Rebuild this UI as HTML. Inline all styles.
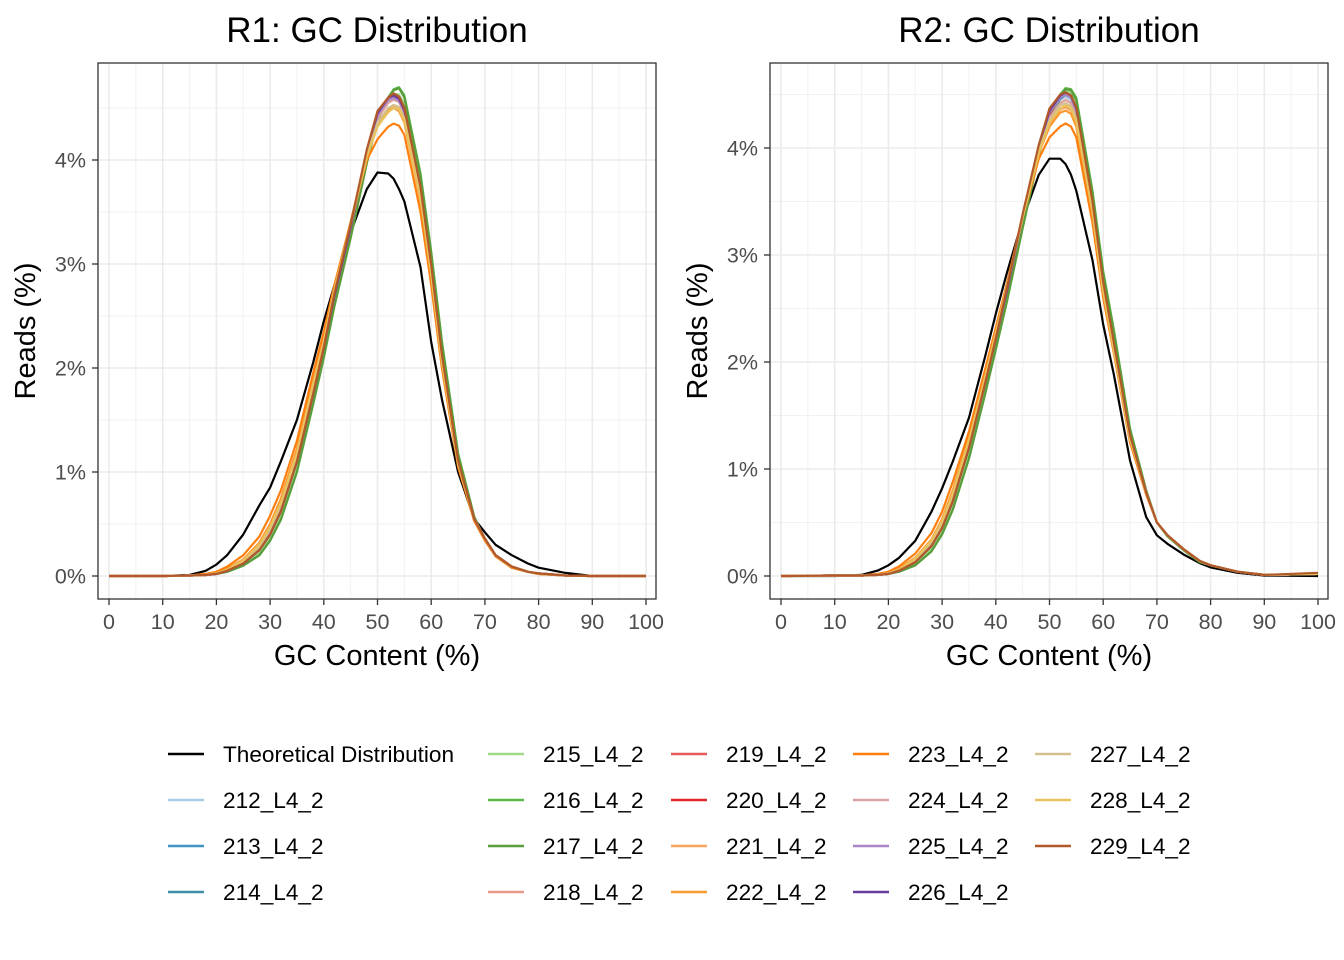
<!DOCTYPE html>
<html><head><meta charset="utf-8">
<style>
html,body{margin:0;padding:0;background:#fff;}
svg{display:block;font-family:"Liberation Sans",sans-serif;}
</style></head>
<body>
<svg id="chart" width="1344" height="960" viewBox="0 0 1344 960" xmlns="http://www.w3.org/2000/svg"></svg>
<script>
// ---- data ----
const gcPoints = [0,10,15,18,20,22,25,28,30,32,35,38,40,42,45,48,50,52,53,54,55,58,60,62,65,68,70,72,75,78,80,85,90,100];
const xTicks = [0,10,20,30,40,50,60,70,80,90,100];
const yTicksR1 = [0,1,2,3,4];
const yTicksR2 = [0,1,2,3,4];
const seriesNames = ["Theoretical Distribution","212_L4_2","213_L4_2","214_L4_2","215_L4_2","216_L4_2","217_L4_2","218_L4_2","219_L4_2","220_L4_2","221_L4_2","222_L4_2","223_L4_2","224_L4_2","225_L4_2","226_L4_2","227_L4_2","228_L4_2","229_L4_2"];
const seriesColors = ["#000000","#a6cee3","#4292c6","#3f8fa6","#a1d98b","#5bb748","#5a9e3c","#e89a8a","#e85a5a","#e3262a","#f9a55f","#fd9a2f","#ff7f0e","#dba1a3","#a985c6","#6a3d9a","#d4c08f","#e8c35f","#b15928"];

const r1Theory = [0,0,0.01,0.05,0.11,0.2,0.4,0.68,0.85,1.1,1.5,2.05,2.45,2.8,3.3,3.72,3.88,3.87,3.82,3.72,3.6,2.97,2.25,1.7,1.0,0.55,0.42,0.3,0.2,0.12,0.08,0.03,0,0];
const r1S212 = [0,0,0.005,0.01,0.02,0.05,0.12,0.25,0.4,0.62,1.1,1.75,2.2,2.7,3.35,4.05,4.4,4.56,4.6,4.58,4.48,3.7,2.95,2.1,1.1,0.55,0.36,0.2,0.09,0.04,0.025,0.005,0,0];
const r1S213 = [0,0,0.005,0.01,0.02,0.05,0.12,0.25,0.4,0.62,1.1,1.75,2.2,2.7,3.35,4.05,4.4,4.57,4.61,4.59,4.49,3.72,2.97,2.11,1.1,0.55,0.36,0.2,0.09,0.04,0.025,0.005,0,0];
const r1S214 = [0,0,0.005,0.01,0.02,0.05,0.12,0.25,0.4,0.62,1.1,1.75,2.2,2.7,3.35,4.05,4.4,4.56,4.6,4.58,4.48,3.7,2.95,2.1,1.1,0.55,0.36,0.2,0.09,0.04,0.025,0.005,0,0];
const r1S215 = [0,0,0.005,0.01,0.02,0.04,0.1,0.22,0.36,0.57,1.05,1.7,2.15,2.65,3.3,4.0,4.38,4.58,4.64,4.63,4.54,3.8,3.05,2.2,1.15,0.56,0.35,0.19,0.08,0.04,0.02,0.005,0,0];
const r1S216 = [0,0,0.005,0.01,0.02,0.04,0.1,0.2,0.34,0.54,1.0,1.65,2.1,2.6,3.25,3.97,4.38,4.6,4.68,4.7,4.62,3.87,3.12,2.26,1.18,0.57,0.35,0.19,0.08,0.04,0.02,0.005,0,0];
const r1S217 = [0,0,0.005,0.01,0.02,0.04,0.1,0.2,0.34,0.54,1.0,1.65,2.1,2.6,3.25,3.97,4.38,4.6,4.67,4.69,4.6,3.85,3.1,2.24,1.17,0.57,0.35,0.19,0.08,0.04,0.02,0.005,0,0];
const r1S218 = [0,0,0.005,0.01,0.02,0.05,0.13,0.26,0.42,0.64,1.12,1.78,2.22,2.72,3.38,4.07,4.4,4.55,4.58,4.56,4.45,3.68,2.93,2.08,1.09,0.55,0.36,0.2,0.09,0.04,0.025,0.005,0,0];
const r1S219 = [0,0,0.005,0.01,0.02,0.05,0.12,0.25,0.4,0.62,1.1,1.75,2.2,2.7,3.35,4.05,4.42,4.6,4.63,4.61,4.5,3.72,2.97,2.11,1.1,0.55,0.36,0.2,0.09,0.04,0.025,0.005,0,0];
const r1S220 = [0,0,0.005,0.01,0.02,0.05,0.12,0.25,0.4,0.62,1.1,1.75,2.2,2.7,3.35,4.05,4.42,4.6,4.63,4.61,4.5,3.72,2.97,2.11,1.1,0.55,0.36,0.2,0.09,0.04,0.025,0.005,0,0];
const r1S221 = [0,0,0.005,0.015,0.03,0.07,0.16,0.32,0.5,0.74,1.22,1.88,2.3,2.78,3.4,4.05,4.35,4.5,4.52,4.49,4.38,3.63,2.9,2.06,1.08,0.54,0.35,0.19,0.08,0.04,0.02,0.005,0,0];
const r1S222 = [0,0,0.005,0.015,0.03,0.07,0.16,0.32,0.5,0.74,1.22,1.88,2.3,2.78,3.4,4.05,4.33,4.48,4.5,4.47,4.36,3.61,2.88,2.05,1.08,0.54,0.35,0.19,0.08,0.04,0.02,0.005,0,0];
const r1S223 = [0,0,0.005,0.02,0.04,0.09,0.2,0.38,0.58,0.82,1.3,1.95,2.35,2.8,3.4,4.0,4.2,4.32,4.35,4.33,4.24,3.5,2.8,2.0,1.05,0.53,0.34,0.19,0.08,0.04,0.02,0.005,0,0];
const r1S224 = [0,0,0.005,0.01,0.02,0.05,0.13,0.26,0.42,0.64,1.12,1.78,2.22,2.72,3.38,4.07,4.4,4.55,4.58,4.56,4.45,3.68,2.93,2.08,1.09,0.55,0.36,0.2,0.09,0.04,0.025,0.005,0,0];
const r1S225 = [0,0,0.005,0.01,0.02,0.05,0.12,0.25,0.4,0.62,1.1,1.75,2.2,2.7,3.35,4.07,4.43,4.58,4.6,4.57,4.46,3.69,2.94,2.09,1.09,0.55,0.36,0.2,0.09,0.04,0.025,0.005,0,0];
const r1S226 = [0,0,0.005,0.01,0.02,0.05,0.12,0.25,0.4,0.62,1.1,1.75,2.2,2.7,3.35,4.08,4.45,4.6,4.62,4.59,4.48,3.7,2.95,2.1,1.1,0.55,0.36,0.2,0.09,0.04,0.025,0.005,0,0];
const r1S227 = [0,0,0.005,0.01,0.025,0.06,0.14,0.28,0.45,0.68,1.16,1.82,2.25,2.75,3.38,4.05,4.36,4.5,4.53,4.51,4.4,3.65,2.91,2.07,1.09,0.55,0.36,0.2,0.09,0.04,0.025,0.005,0,0];
const r1S228 = [0,0,0.005,0.01,0.025,0.06,0.15,0.3,0.47,0.7,1.18,1.84,2.26,2.76,3.38,4.03,4.32,4.46,4.5,4.49,4.38,3.63,2.9,2.06,1.08,0.55,0.36,0.2,0.09,0.04,0.025,0.005,0,0];
const r1S229 = [0,0,0.005,0.01,0.02,0.05,0.12,0.25,0.4,0.62,1.1,1.75,2.2,2.72,3.38,4.1,4.47,4.6,4.64,4.61,4.5,3.74,2.99,2.13,1.11,0.55,0.36,0.2,0.09,0.04,0.025,0.005,0,0];

const r2Theory = [0,0,0.01,0.05,0.1,0.17,0.33,0.6,0.82,1.07,1.48,2.05,2.45,2.82,3.33,3.75,3.9,3.9,3.85,3.75,3.6,2.95,2.35,1.88,1.08,0.55,0.38,0.3,0.2,0.12,0.08,0.03,0.005,0];
const r2S212 = [0,0.005,0.005,0.01,0.02,0.05,0.13,0.28,0.45,0.7,1.2,1.8,2.22,2.65,3.35,3.98,4.3,4.45,4.48,4.45,4.33,3.45,2.7,2.15,1.3,0.78,0.5,0.38,0.25,0.14,0.1,0.04,0.01,0.02];
const r2S213 = [0,0.005,0.005,0.01,0.02,0.05,0.13,0.28,0.45,0.7,1.2,1.8,2.22,2.65,3.35,3.98,4.3,4.46,4.5,4.47,4.35,3.47,2.72,2.16,1.3,0.78,0.5,0.38,0.25,0.14,0.1,0.04,0.01,0.02];
const r2S214 = [0,0.005,0.005,0.01,0.02,0.05,0.13,0.28,0.45,0.7,1.2,1.8,2.22,2.65,3.35,3.98,4.3,4.46,4.5,4.47,4.35,3.47,2.72,2.16,1.3,0.78,0.5,0.38,0.25,0.14,0.1,0.04,0.01,0.02];
const r2S215 = [0,0.005,0.005,0.01,0.02,0.04,0.11,0.25,0.41,0.65,1.15,1.75,2.17,2.6,3.3,3.95,4.3,4.48,4.53,4.52,4.42,3.54,2.79,2.23,1.34,0.79,0.5,0.37,0.24,0.13,0.1,0.04,0.01,0.02];
const r2S216 = [0,0.005,0.005,0.01,0.02,0.04,0.1,0.23,0.39,0.62,1.1,1.7,2.12,2.55,3.25,3.93,4.3,4.5,4.56,4.55,4.47,3.6,2.85,2.3,1.38,0.8,0.5,0.37,0.24,0.13,0.1,0.04,0.01,0.02];
const r2S217 = [0,0.005,0.005,0.01,0.02,0.04,0.1,0.23,0.39,0.62,1.1,1.7,2.12,2.55,3.25,3.93,4.3,4.49,4.55,4.54,4.45,3.58,2.83,2.28,1.37,0.8,0.5,0.37,0.24,0.13,0.1,0.04,0.01,0.02];
const r2S218 = [0,0.005,0.005,0.01,0.02,0.05,0.14,0.3,0.47,0.72,1.22,1.82,2.24,2.67,3.37,3.98,4.28,4.42,4.45,4.42,4.3,3.43,2.68,2.13,1.29,0.78,0.5,0.38,0.25,0.14,0.1,0.04,0.01,0.02];
const r2S219 = [0,0.005,0.005,0.01,0.02,0.05,0.13,0.28,0.45,0.7,1.2,1.8,2.22,2.65,3.35,3.99,4.32,4.48,4.52,4.49,4.37,3.48,2.73,2.17,1.31,0.78,0.5,0.38,0.25,0.14,0.1,0.04,0.01,0.02];
const r2S220 = [0,0.005,0.005,0.01,0.02,0.05,0.13,0.28,0.45,0.7,1.2,1.8,2.22,2.65,3.35,3.99,4.32,4.48,4.52,4.49,4.37,3.48,2.73,2.17,1.31,0.78,0.5,0.38,0.25,0.14,0.1,0.04,0.01,0.02];
const r2S221 = [0,0.005,0.005,0.015,0.03,0.07,0.17,0.34,0.53,0.8,1.29,1.88,2.29,2.7,3.37,3.96,4.22,4.36,4.38,4.35,4.23,3.38,2.65,2.11,1.28,0.77,0.5,0.38,0.25,0.14,0.1,0.04,0.01,0.02];
const r2S222 = [0,0.005,0.005,0.015,0.03,0.07,0.17,0.34,0.53,0.8,1.29,1.88,2.29,2.7,3.37,3.95,4.2,4.33,4.35,4.32,4.2,3.36,2.64,2.1,1.27,0.77,0.5,0.38,0.25,0.14,0.1,0.04,0.01,0.02];
const r2S223 = [0,0.005,0.005,0.02,0.04,0.09,0.21,0.4,0.6,0.88,1.35,1.93,2.32,2.72,3.35,3.9,4.1,4.2,4.23,4.2,4.1,3.3,2.6,2.08,1.25,0.76,0.5,0.38,0.25,0.14,0.1,0.04,0.01,0.02];
const r2S224 = [0,0.005,0.005,0.01,0.02,0.05,0.14,0.3,0.47,0.72,1.22,1.82,2.24,2.67,3.37,3.98,4.28,4.42,4.45,4.42,4.3,3.43,2.68,2.13,1.29,0.78,0.5,0.38,0.25,0.14,0.1,0.04,0.01,0.02];
const r2S225 = [0,0.005,0.005,0.01,0.02,0.05,0.13,0.28,0.45,0.7,1.2,1.8,2.22,2.65,3.35,4.0,4.33,4.47,4.5,4.47,4.35,3.46,2.71,2.15,1.3,0.78,0.5,0.38,0.25,0.14,0.1,0.04,0.01,0.02];
const r2S226 = [0,0.005,0.005,0.01,0.02,0.05,0.13,0.28,0.45,0.7,1.2,1.8,2.22,2.65,3.35,4.01,4.35,4.49,4.52,4.49,4.37,3.47,2.72,2.16,1.3,0.78,0.5,0.38,0.25,0.14,0.1,0.04,0.01,0.02];
const r2S227 = [0,0.005,0.005,0.01,0.025,0.06,0.15,0.31,0.49,0.75,1.25,1.84,2.26,2.68,3.35,3.97,4.26,4.4,4.42,4.39,4.27,3.41,2.67,2.12,1.29,0.78,0.5,0.38,0.25,0.14,0.1,0.04,0.01,0.02];
const r2S228 = [0,0.005,0.005,0.01,0.025,0.06,0.16,0.33,0.51,0.77,1.27,1.86,2.27,2.69,3.35,3.95,4.24,4.37,4.4,4.37,4.25,3.4,2.66,2.11,1.28,0.78,0.5,0.38,0.25,0.14,0.1,0.04,0.01,0.02];
const r2S229 = [0,0.005,0.005,0.01,0.02,0.05,0.13,0.28,0.45,0.7,1.2,1.8,2.22,2.67,3.38,4.03,4.37,4.5,4.52,4.49,4.38,3.5,2.75,2.18,1.32,0.78,0.5,0.38,0.25,0.14,0.1,0.04,0.01,0.03];

const r1Series = [r1Theory,r1S212,r1S213,r1S214,r1S215,r1S216,r1S217,r1S218,r1S219,r1S220,r1S221,r1S222,r1S223,r1S224,r1S225,r1S226,r1S227,r1S228,r1S229];
const r2Series = [r2Theory,r2S212,r2S213,r2S214,r2S215,r2S216,r2S217,r2S218,r2S219,r2S220,r2S221,r2S222,r2S223,r2S224,r2S225,r2S226,r2S227,r2S228,r2S229];

// ---- drawing ----
const NS = "http://www.w3.org/2000/svg";
const svg = document.getElementById("chart");
function mk(tag, attrs, parent) {
  const e = document.createElementNS(NS, tag);
  for (const k in attrs) e.setAttribute(k, attrs[k]);
  (parent || svg).appendChild(e);
  return e;
}

function drawPanel(cfg) {
  const g = mk("g", {});
  
  
  const xs = v => cfg.x0 + (v / 100) * (cfg.x100 - cfg.x0);
  const ys = v => cfg.y0 - v * cfg.yUnit;
  for (let v = 5; v < 100; v += 10) {
    const l = mk("line", {x1: xs(v), x2: xs(v), y1: cfg.top, y2: cfg.bottom, stroke: "#f2f2f2", "stroke-width": 1}, g);
    
    
  }
  for (let v = 0.5; ys(v) > cfg.top; v += 1) {
    const l = mk("line", {x1: cfg.left, x2: cfg.right, y1: ys(v), y2: ys(v), stroke: "#f2f2f2", "stroke-width": 1}, g);
    
    
  }
  xTicks.forEach(v => {
    const l = mk("line", {x1: xs(v), x2: xs(v), y1: cfg.top, y2: cfg.bottom, stroke: "#ebebeb", "stroke-width": 1.6}, g);
    
    
  });
  cfg.yTicks.forEach(v => {
    const l = mk("line", {x1: cfg.left, x2: cfg.right, y1: ys(v), y2: ys(v), stroke: "#ebebeb", "stroke-width": 1.6}, g);
    
    
  });
  cfg.series.forEach((arr, i) => {
    const pts = gcPoints.map((x, j) => xs(x).toFixed(1) + "," + ys(arr[j]).toFixed(1)).join(" ");
    const p = mk("polyline", {points: pts, fill: "none", stroke: seriesColors[i], "stroke-width": 2.2, "stroke-linejoin": "round"}, g);
    
    
  });
  const b = mk("rect", {x: cfg.left, y: cfg.top, width: cfg.right - cfg.left, height: cfg.bottom - cfg.top, fill: "none", stroke: "#333333", "stroke-width": 1.3}, g);
  
  
  xTicks.forEach(v => {
    const t = mk("line", {x1: xs(v), x2: xs(v), y1: cfg.bottom, y2: cfg.bottom + 6, stroke: "#333", "stroke-width": 1.3}, g);
    
    
    const tx = mk("text", {x: xs(v), y: cfg.bottom + 30, "text-anchor": "middle", "font-size": 21.5, fill: "#4d4d4d"}, g);
    tx.textContent = v;
    
    
  });
  cfg.yTicks.forEach(v => {
    const t = mk("line", {x1: cfg.left - 6, x2: cfg.left, y1: ys(v), y2: ys(v), stroke: "#333", "stroke-width": 1.3}, g);
    
    
    const tx = mk("text", {x: cfg.left - 12, y: ys(v) + 7.5, "text-anchor": "end", "font-size": 21.5, fill: "#4d4d4d"}, g);
    tx.textContent = v + "%";
    
    
  });
  const mid = (cfg.left + cfg.right) / 2;
  const ttl = mk("text", {x: mid, y: 42, "text-anchor": "middle", "font-size": 35, fill: "#000"}, g);
  ttl.textContent = cfg.title;
  
  
  const xt = mk("text", {x: mid, y: 665, "text-anchor": "middle", "font-size": 29, fill: "#000"}, g);
  xt.textContent = "GC Content (%)";
  
  
  const cy = (cfg.top + cfg.bottom) / 2;
  const yt = mk("text", {x: cfg.left - 63, y: cy, "text-anchor": "middle", "font-size": 29, fill: "#000", transform: "rotate(-90 " + (cfg.left - 63) + " " + cy + ")"}, g);
  yt.textContent = "Reads (%)";
  
  
}

drawPanel({id: "r1", title: "R1: GC Distribution", left: 98, right: 656, top: 63, bottom: 599, x0: 109, x100: 646, y0: 576, yUnit: 104, yTicks: yTicksR1, series: r1Series});
drawPanel({id: "r2", title: "R2: GC Distribution", left: 770, right: 1328, top: 63, bottom: 599, x0: 781, x100: 1318, y0: 576, yUnit: 107, yTicks: yTicksR2, series: r2Series});

const legend = mk("g", {});


const colX = [168, 488, 671, 853, 1035];
const rowY = [754, 800, 846, 892];
const colOf = [0,0,0,0, 1,1,1,1, 2,2,2,2, 3,3,3,3, 4,4,4];
seriesNames.forEach((n, i) => {
  const c = colOf[i];
  const start = [0,4,8,12,16][c];
  const r = i - start;
  const x = colX[c], y = rowY[r];
  const ent = mk("g", {}, legend);
  
  
  mk("line", {x1: x, x2: x + 36, y1: y, y2: y, stroke: seriesColors[i], "stroke-width": 2.4}, ent);
  const t = mk("text", {x: x + 55, y: y + 8, "font-size": 22.6, fill: "#000"}, ent);
  t.textContent = n;
});
</script>
</body></html>
